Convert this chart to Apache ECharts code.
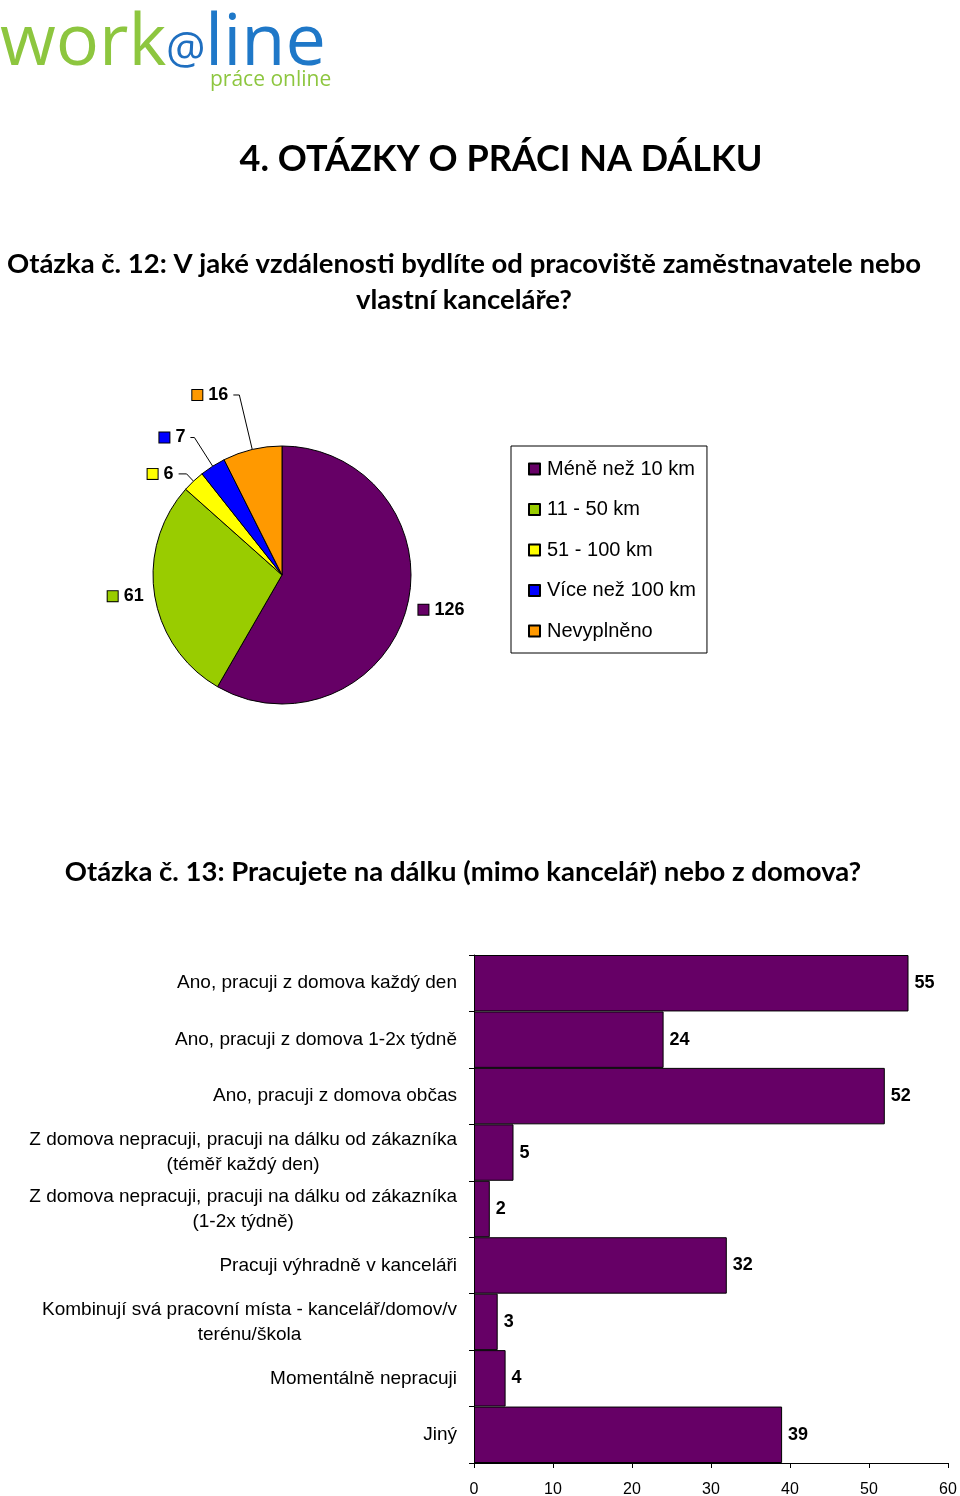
<!DOCTYPE html>
<html>
<head>
<meta charset="utf-8">
<script src="https://cdn.jsdelivr.net/npm/echarts@6/dist/echarts.min.js"></script>
<style>
html,body{margin:0;padding:0;background:#fff;}
#main{width:960px;height:1496px;}
</style>
</head>
<body>
<div id="main"></div>
<script>
// ---- data ----
const pieNames = ['Méně než 10 km', '11 - 50 km', '51 - 100 km', 'Více než 100 km', 'Nevyplněno'];
const pieValues = [126, 61, 6, 7, 16];
const pieColors = ['#660066', '#99CC00', '#FFFF00', '#0000FF', '#FF9900'];

const barCategories = [
  'Ano, pracuji z domova každý den',
  'Ano, pracuji z domova 1-2x týdně',
  'Ano, pracuji z domova občas',
  'Z domova nepracuji, pracuji na dálku od zákazníka\n(téměř každý den)',
  'Z domova nepracuji, pracuji na dálku od zákazníka\n(1-2x týdně)',
  'Pracuji výhradně v kanceláři',
  'Kombinují svá pracovní místa - kancelář/domov/v\nterénu/škola',
  'Momentálně nepracuji',
  'Jiný'
];
const barValues = [55, 24, 52, 5, 2, 32, 3, 4, 39];
const xAxisMin = 0, xAxisMax = 60, xAxisStep = 10;

const heading = '4. OTÁZKY O PRÁCI NA DÁLKU';
const question12 = 'Otázka č. 12: V jaké vzdálenosti bydlíte od pracoviště zaměstnavatele nebo\nvlastní kanceláře?';
const question13 = 'Otázka č. 13: Pracujete na dálku (mimo kancelář) nebo z domova?';

// ---- styles ----
const leader = [
  {show: false, length: 5, length2: 2},
  {show: false, length: 4, length2: 2},
  {show: true, length: 10, length2: 8},
  {show: true, length: 34, length2: 4},
  {show: true, length: 56, length2: 6}
];
const sans = '"Liberation Sans", Arial, sans-serif';
const titleFont = 'Lato, "Open Sans", sans-serif';

const pieRich = {
  v: {fontSize: 18, fontWeight: 'bold', fontFamily: sans, color: '#000', padding: [0, 0, 0, 6]}
};
pieColors.forEach((c, i) => {
  pieRich['m' + i] = {width: 10, height: 10, backgroundColor: c, borderColor: '#000', borderWidth: 1};
});

const chart = echarts.init(document.getElementById('main'), null, {renderer: 'canvas'});

const option = {
  backgroundColor: '#fff',
  animation: false,
  graphic: [
    {type: 'text', style: {x: 0, y: 44, text: 'work', fill: '#8dc63f', font: '400 72px "Open Sans", sans-serif', verticalAlign: 'middle'}},
    {type: 'text', style: {x: 166, y: 50, text: '@', fill: '#1f6fc0', font: '400 44px "Open Sans", sans-serif', verticalAlign: 'middle'}},
    {type: 'text', style: {x: 205, y: 44, text: 'line', fill: '#1f78c8', font: '400 72px "Open Sans", sans-serif', verticalAlign: 'middle'}},
    {type: 'text', style: {x: 210, y: 80, text: 'práce online', fill: '#8dc63f', font: '400 21px "Open Sans", sans-serif', verticalAlign: 'middle'}},
    {type: 'text', style: {x: 501, y: 159, text: heading, fill: '#000', font: 'bold 36px ' + titleFont, align: 'center', verticalAlign: 'middle'}},
    {type: 'text', style: {x: 464, y: 282, text: question12, fill: '#000', font: 'bold 27.5px ' + titleFont, align: 'center', verticalAlign: 'middle', lineHeight: 36}},
    {type: 'text', style: {x: 463, y: 872, text: question13, fill: '#000', font: 'bold 27.5px ' + titleFont, align: 'center', verticalAlign: 'middle'}}
  ],
  legend: {
    data: pieNames,
    orient: 'vertical',
    left: 511,
    top: 446,
    padding: [13, 11, 12, 17],
    itemWidth: 11,
    itemHeight: 11,
    itemGap: 20.5,
    icon: 'rect',
    borderColor: '#000',
    borderWidth: 1,
    backgroundColor: '#fff',
    textStyle: {fontSize: 20, fontFamily: sans, color: '#000', padding: [0, 0, 0, 2]}
  },
  grid: {left: 474, right: 12, top: 955, bottom: 33, containLabel: false, outerBoundsMode: 'none'},
  xAxis: {
    type: 'value', min: xAxisMin, max: xAxisMax, interval: xAxisStep,
    axisLine: {show: true, lineStyle: {color: '#000', width: 1}},
    axisTick: {show: true, length: 5, lineStyle: {color: '#000'}},
    splitLine: {show: false},
    axisLabel: {fontSize: 16, fontFamily: sans, color: '#000', margin: 19}
  },
  yAxis: {
    type: 'category', inverse: true, data: barCategories,
    axisLine: {show: true, lineStyle: {color: '#000', width: 1}},
    axisTick: {show: true, length: 5, lineStyle: {color: '#000'}},
    axisLabel: {
      margin: 17,
      formatter: v => v.split('\n').map(l => '{c|' + l + '}').join('\n'),
      rich: {c: {align: 'center', fontSize: 19, fontFamily: sans, color: '#000', lineHeight: 25}}
    }
  },
  series: [
    {
      type: 'pie',
      center: [282, 575],
      radius: 129,
      startAngle: 90,
      clockwise: true,
      avoidLabelOverlap: false,
      itemStyle: {borderColor: '#000', borderWidth: 1},
      label: {
        show: true, position: 'outside', distanceToLabelLine: 5,
        formatter: p => '{m' + p.dataIndex + '|}{v|' + p.value + '}',
        rich: pieRich
      },
      labelLine: {lineStyle: {color: '#000', width: 1}, smooth: false},
      data: pieNames.map((n, i) => ({
        name: n, value: pieValues[i],
        itemStyle: {color: pieColors[i]},
        labelLine: leader[i]
      }))
    },
    {
      type: 'bar',
      data: barValues,
      barCategoryGap: '0%',
      itemStyle: {color: '#660066', borderColor: '#000', borderWidth: 1},
      label: {show: true, position: 'right', distance: 6, fontSize: 18, fontWeight: 'bold', fontFamily: sans, color: '#000'}
    }
  ]
};
chart.setOption(option);
</script>
</body>
</html>
